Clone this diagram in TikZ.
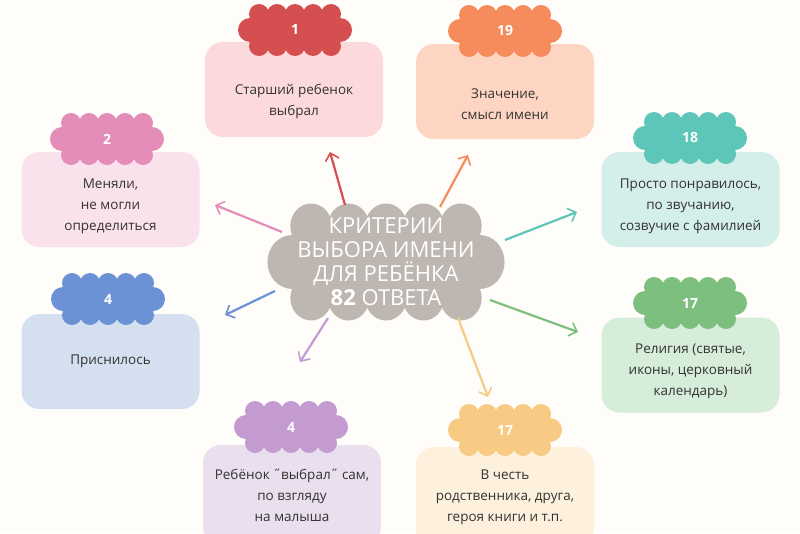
\documentclass[tikz,border=0pt]{standalone}
\usepackage{fontspec}
\setmainfont{Open Sans}
\begin{document}
\begin{tikzpicture}[x=1pt,y=-1pt,
  box/.style={rounded corners=18pt,minimum width=178pt,inner sep=0pt,align=center,text=black!80,font=\fontsize{13.5}{21}\selectfont},
  num/.style={text=white,font=\bfseries\fontsize{14}{16}\selectfont},
  arr/.style={line width=2.2pt,->,>={Straight Barb[length=7pt,width=14pt,line width=1.6pt]}}]
\usetikzlibrary{arrows.meta}
\definecolor{bg}{HTML}{FFFDFA}
\definecolor{cRed}{HTML}{D54E50}\definecolor{fRed}{HTML}{FCDADC}
\definecolor{cOra}{HTML}{F68B5C}\definecolor{fOra}{HTML}{FDD5C2}
\definecolor{cPin}{HTML}{E58DB9}\definecolor{fPin}{HTML}{F9E2EC}
\definecolor{cTea}{HTML}{5DC6B9}\definecolor{fTea}{HTML}{D4EEEA}
\definecolor{cBlu}{HTML}{6A92D4}\definecolor{fBlu}{HTML}{D4DFEF}
\definecolor{cGre}{HTML}{7DBF7E}\definecolor{fGre}{HTML}{D6EDDA}
\definecolor{cPur}{HTML}{C49BD0}\definecolor{fPur}{HTML}{EADFEE}
\definecolor{cYel}{HTML}{F8CB84}\definecolor{fYel}{HTML}{FDF0DD}
\definecolor{cGra}{HTML}{BEB6B1}
\fill[bg] (0,0) rectangle (800,533);
\useasboundingbox (0,0) rectangle (800,533);
\newcommand{\scloud}[2]{%
 \begin{scope}[shift={#1}]
 \fill[#2] (-40,-16) rectangle (40,16);
 \foreach \x in {-36,-18,0,18,36}{\fill[#2] (\x,-16) circle (10);\fill[#2] (\x,16) circle (10);}
 \fill[#2] (-45,0) circle (12);\fill[#2] (45,0) circle (12);
 \end{scope}}
% boxes
\node[box,fill=fRed,minimum height=95pt] (b1) at (294,89.5) {\\[14pt]Старший ребенок\\выбрал};
\node[box,fill=fOra,minimum height=95pt] (b19) at (505,91.5) {\\[14pt]Значение,\\смысл имени};
\node[box,fill=fPin,minimum height=95pt] (b2) at (110.5,199.5) {\\[2pt]Меняли,\\не могли\\определиться};
\node[box,fill=fTea,minimum height=95pt] (b18) at (690.5,199.5) {\\[2pt]Просто понравилось,\\по звучанию,\\созвучие с фамилией};
\node[box,fill=fBlu,minimum height=95pt] (b4a) at (110.5,361.5) {Приснилось};
\node[box,fill=fGre,minimum height=95pt] (b17a) at (690.5,365) {\\[2pt]Религия (святые,\\иконы, церковный\\календарь)};
\node[box,fill=fPur,minimum height=100pt] (b4b) at (292,495) {\\[-10pt]Ребёнок ˝выбрал˝ сам,\\по взгляду\\на малыша};
\node[box,fill=fYel,minimum height=100pt] (b17b) at (505,497) {\\[-10pt]В честь\\родственника, друга,\\героя книги и т.п.};
% number clouds
\scloud{(295,30)}{cRed}\node[num] (n1) at (295,30) {1};
\scloud{(505,31)}{cOra}\node[num] (n19) at (505,31) {19};
\scloud{(107,139)}{cPin}\node[num] (n2) at (107,139) {2};
\scloud{(690,138)}{cTea}\node[num] (n18) at (690,138) {18};
\scloud{(108,299)}{cBlu}\node[num] (n4a) at (108,299) {4};
\scloud{(690,303)}{cGre}\node[num] (n17a) at (690,303) {17};
\scloud{(291,427)}{cPur}\node[num] (n4b) at (291,427) {4};
\scloud{(505,430)}{cYel}\node[num] (n17b) at (505,430) {17};
% center cloud
\begin{scope}[shift={(386,262)},xscale=2.08,yscale=2.25]
 \fill[cGra] (-40,-16) rectangle (40,16);
 \foreach \x in {-36,-18,0,18,36}{\fill[cGra] (\x,-16) circle (10);\fill[cGra] (\x,16) circle (10);}
 \fill[cGra] (-45,0) circle (12);\fill[cGra] (45,0) circle (12);
\end{scope}
\node[text=white,align=center,font=\fontsize{22}{24}\selectfont] (c) at (386,262) {КРИТЕРИИ\\ВЫБОРА ИМЕНИ\\ДЛЯ РЕБЁНКА\\{\bfseries 82} ОТВЕТА};
% arrows
\coordinate (s1) at (345,205);\coordinate (e1) at (330,152);
\coordinate (s19) at (440,207);\coordinate (e19) at (468,155);
\coordinate (s2) at (282,232);\coordinate (e2) at (215,205);
\coordinate (s18) at (505,240);\coordinate (e18) at (577,212);
\coordinate (s4a) at (275,291);\coordinate (e4a) at (225,315);
\coordinate (s17a) at (490,300);\coordinate (e17a) at (578,332);
\coordinate (s4b) at (328,318);\coordinate (e4b) at (300,362);
\coordinate (s17b) at (458,318);\coordinate (e17b) at (488,397);
\draw[arr,cRed] (s1) -- (e1);
\draw[arr,cOra] (s19) -- (e19);
\draw[arr,cPin] (s2) -- (e2);
\draw[arr,cTea] (s18) -- (e18);
\draw[arr,cBlu] (s4a) -- (e4a);
\draw[arr,cGre] (s17a) -- (e17a);
\draw[arr,cPur] (s4b) -- (e4b);
\draw[arr,cYel] (s17b) -- (e17b);
\end{tikzpicture}
\end{document}
